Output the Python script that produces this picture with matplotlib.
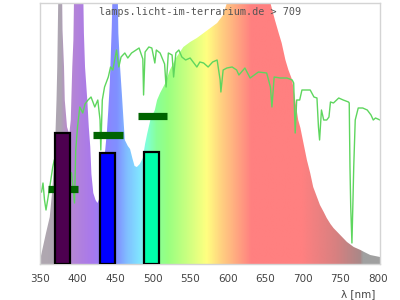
import matplotlib
matplotlib.use("Agg")
import matplotlib.pyplot as plt
import numpy as np
from matplotlib.colors import LinearSegmentedColormap

# lamp spectrum (arbitrary units, peaks run off the top)
spec_nm = [350, 351, 353, 358, 363, 366, 369.6, 372, 373, 375, 379, 380, 382, 383, 386, 389,
           391, 393, 394.5, 396, 407, 408.5, 410, 413, 415, 417, 418.5, 421, 424, 426.5, 430,
           433, 437, 439, 441, 443, 445.6, 447.5, 453, 454.4, 456.7, 459, 461, 463, 467, 470,
           473, 476, 479, 483, 487, 490, 493, 497, 503, 506, 510, 517, 523, 532, 541, 550, 559,
           568, 577, 586, 594, 599, 603, 655, 657, 663, 668, 672, 677, 681, 686, 690, 694, 697,
           701, 705.6, 710, 714, 719, 723, 728, 732, 737, 741, 750, 759, 768, 777, 782, 790, 803]
spec_val = [5, 7, 14, 31, 47, 71, 107, 164, 197, 300, 300, 234, 197, 164, 137, 130,
            144, 197, 224, 300, 300, 231, 197, 164, 137, 117, 90, 71, 64, 61, 67,
            90, 115, 131, 154, 181, 237, 300, 300, 231, 197, 171, 147, 124, 118, 115,
            106, 98, 97, 100, 106, 120, 131, 144, 154, 164, 171, 181, 194, 207, 217, 222, 226,
            231, 236, 241, 249, 261, 300, 300, 261, 244, 231, 221, 204, 194, 184, 164, 144, 136,
            121, 104, 91, 77, 67, 59, 52, 46, 40, 36, 29, 22, 17, 14, 12, 9, 7]

# reference sunlight curve
sun_nm = [352, 354, 356, 358, 363, 367, 369, 375, 380, 385, 392, 394, 396, 397.6, 400, 403,
          407, 410, 414, 418, 423, 427, 430, 431, 433, 436, 441, 444, 447, 452, 455, 458,
          463, 467, 472, 478, 482, 487, 488, 490, 495, 499, 503, 505, 510, 516, 518, 521,
          526, 528, 531, 535, 539, 544, 550, 559, 563, 568, 574, 580, 586, 590, 591, 594,
          599, 606, 612, 615, 623, 630, 641, 652, 657, 659, 662, 670, 679, 686, 688, 690,
          692, 696, 699, 705, 710, 715, 719, 721, 722.5, 725, 728, 732, 735, 737, 741, 748,
          754, 761, 762, 763, 764, 765.6, 767, 768, 770, 774, 780, 786, 791, 794, 797, 803]
sun_val = [72, 81, 64, 54, 77, 97, 104, 110, 100, 95, 91, 77, 61, 114, 137, 157,
           151, 160, 164, 167, 157, 164, 144, 114, 164, 177, 187, 197, 194, 214, 197, 207,
           211, 206, 211, 214, 216, 205, 169, 212, 217, 216, 201, 214, 211, 200, 177, 211,
           209, 187, 211, 214, 207, 204, 206, 197, 202, 201, 197, 202, 204, 184, 172, 194,
           196, 197, 194, 189, 196, 186, 192, 191, 177, 157, 187, 186, 186, 184, 181, 131,
           164, 164, 174, 174, 174, 167, 166, 137, 124, 154, 144, 144, 147, 162, 161, 166,
           164, 162, 161, 97, 57, 21, 64, 97, 144, 156, 156, 154, 149, 144, 146, 144]

# filter bands
band_center = [380, 440, 499]
band_height = [131, 111, 112]
band_color = ["#4d0050", "#0000ff", "#00ffaa"]

# target levels
level_start = [360, 420, 480]
level_end = [401, 461, 519]
level_val = [75, 129.5, 148.5]

fig = plt.figure(figsize=(4, 3), dpi=100)
ax = fig.add_axes([0.1, 0.12, 0.85, 0.87])

x0, x1, ytop = 350, 803, 261

stops = [(350, "#b0a8b0"), (377, "#ada5b2"), (383, "#b890c8"), (395, "#b484d8"),
         (420, "#a878ee"), (437, "#8c84ff"), (452, "#8090ff"), (466, "#80c0ff"),
         (482, "#80e4ff"), (492, "#80ffd8"), (505, "#88ff98"), (520, "#98ff80"),
         (545, "#c8ff80"), (572, "#ffff80"), (592, "#ffd080"), (612, "#ffa880"),
         (632, "#ff8080"), (700, "#ff8080"), (745, "#d88080"), (779, "#a88888"),
         (780.5, "#a0a0a0"), (803, "#a0a0a0")]
cmap = LinearSegmentedColormap.from_list(
    "spec", [((w - x0) / (x1 - x0), c) for w, c in stops])

grad = np.linspace(0, 1, 900).reshape(1, -1)
im = ax.imshow(grad, cmap=cmap, extent=[x0, x1, 0, ytop], aspect="auto",
               origin="lower", zorder=1, interpolation="bilinear")
poly = ax.fill_between(spec_nm, 0, spec_val, color="none", lw=0)
im.set_clip_path(poly.get_paths()[0], transform=ax.transData)

ax.plot(sun_nm, sun_val, color="#5ed65e", lw=1, zorder=2)
ax.hlines(level_val, level_start, level_end, color="#006400", lw=5.2, zorder=3)
ax.bar(band_center, band_height, width=20, color=band_color, edgecolor="black",
       linewidth=1.6, zorder=4)

ax.set_xlim(x0, x1)
ax.set_ylim(0, ytop)
ax.set_xticks(range(350, 801, 50))
ax.set_yticks([])
ax.tick_params(axis="x", length=0, pad=7, labelsize=7.5, labelcolor="#444444")
for s in ax.spines.values():
    s.set_color("#d4d4d4")
    s.set_linewidth(1)

fig.text(0.5, 1 - 12 / 300, "lamps.licht-im-terrarium.de > 709", ha="center",
         va="center", family="DejaVu Sans Mono", fontsize=7.3, color="#555555")
fig.text(358 / 400, 1 - 294 / 300, "λ [nm]", ha="center", va="center",
         fontsize=7.5, color="#444444")

fig.savefig("out.png", dpi=100)
